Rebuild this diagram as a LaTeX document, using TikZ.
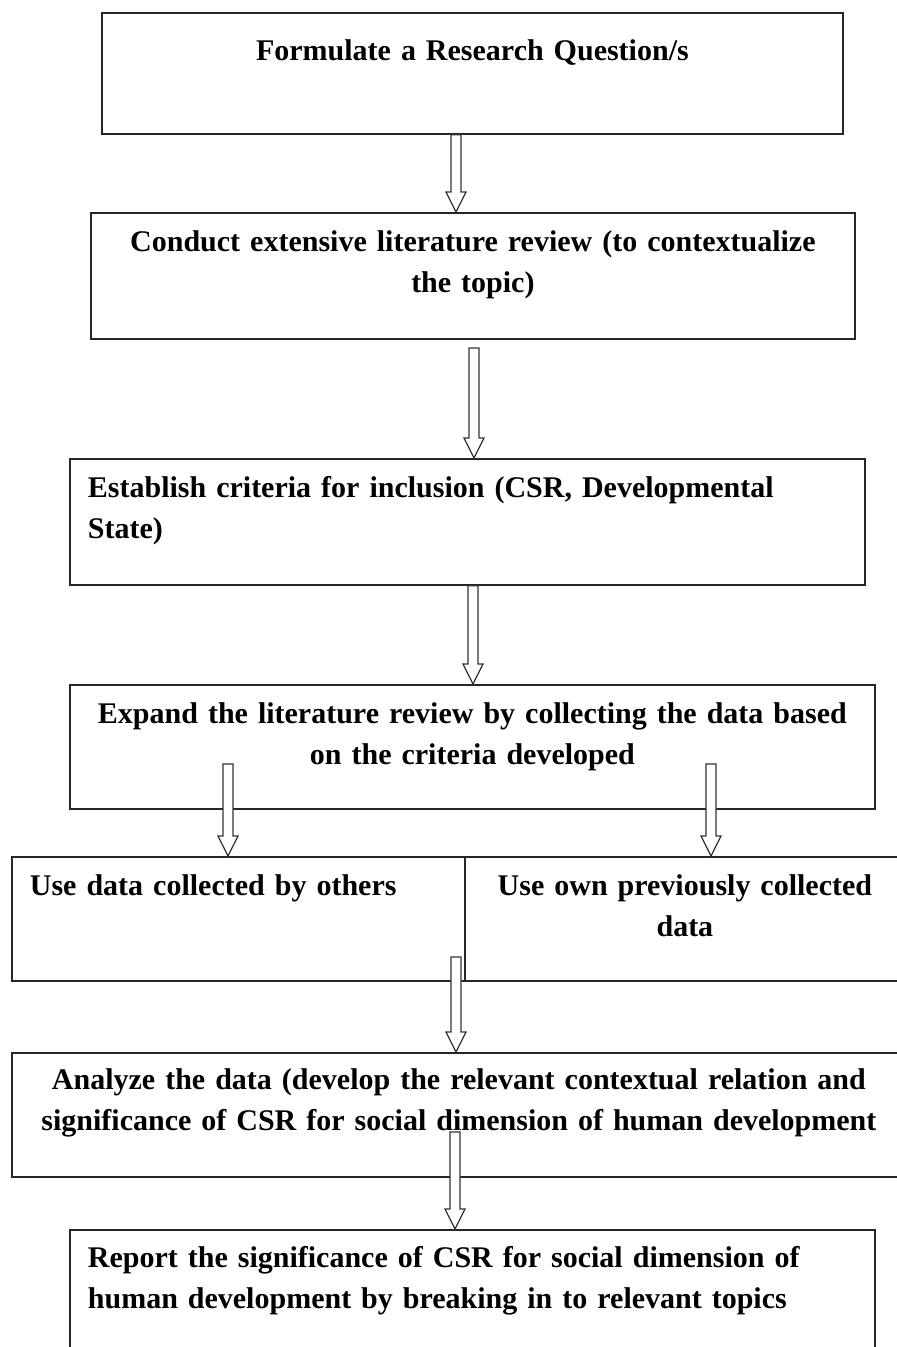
\documentclass[tikz,border=0pt]{standalone}
\usepackage{fontspec}
\setmainfont{Liberation Serif}
\usetikzlibrary{calc,positioning}

\tikzset{
  stage/.style={draw=black!85, line width=0.9pt, anchor=north west,
    inner xsep=9pt, inner ysep=0pt, text height=19.5pt,
    font=\fontsize{15}{20.5}\selectfont\bfseries},
  hollowarrow/.style={draw=black!80, line width=0.6pt, fill=white,
    to path={let \p1=(\tikztostart), \p2=(\tikztotarget) in
      (\x1-2.5pt,\y1) -- (\x1-2.5pt,\y2+10pt) -- (\x1-5pt,\y2+10pt)
      -- (\x1,\y2) -- (\x1+5pt,\y2+10pt) -- (\x1+2.5pt,\y2+10pt)
      -- (\x1+2.5pt,\y1) -- cycle}}
}

\begin{document}
\begin{tikzpicture}[x=0.5pt,y=-0.5pt]
  \useasboundingbox (0,0) rectangle (896,1347);
  % draw boxes
  \node[stage, text width=352.5pt, text height=24pt, text depth=36.5pt, align=center]
    (research) at (101,12) {Formulate a Research Question/s};
  \node[stage, text width=364pt, text depth=43.5pt, align=center]
    (review) at (90,212) {Conduct extensive literature review (to contextualize\\ the topic)};
  \node[stage, text width=379.5pt, text depth=43.5pt, align=left]
    (criteria) at (69,458) {Establish criteria for inclusion (CSR, Developmental\\ State)};
  \node[stage, text width=384.5pt, text depth=42.5pt, align=center]
    (expand) at (69,684) {Expand the literature review by collecting the data based\\ on the criteria developed};
  \node[stage, text width=208.5pt, text depth=42.5pt, align=left]
    (others) at (11,856) {Use data collected by others};
  \node[stage, text width=202pt, text depth=42.5pt, align=center]
    (own) at (464,856) {Use own previously collected\\ data};
  \node[stage, text width=429pt, text height=18.5pt, text depth=43.5pt, align=center]
    (analyze) at (11,1052) {Analyze the data (develop the relevant contextual relation and\\ significance of CSR for social dimension of human development};
  \node[stage, text width=384.5pt, text height=19pt, text depth=51pt, align=left]
    (report) at (69,1229) {Report the significance of CSR for social dimension of\\ human development by breaking in to relevant topics};
  % arrow positions
  \coordinate (colA) at (456,0);
  \coordinate (reviewout) at (474,348);
  \coordinate (colC) at (473,0);
  \coordinate (expandleft) at (228,764);
  \coordinate (expandright) at (711,764);
  \coordinate (splitout) at (456,957);
  \coordinate (analyzeout) at (455,1132);
  % draw arrows
  \draw[hollowarrow] (research.south -| colA) to (review.north -| colA);
  \draw[hollowarrow] (reviewout) to (criteria.north -| reviewout);
  \draw[hollowarrow] (criteria.south -| colC) to (expand.north -| colC);
  \draw[hollowarrow] (expandleft) to (others.north -| expandleft);
  \draw[hollowarrow] (expandright) to (own.north -| expandright);
  \draw[hollowarrow] (splitout) to (analyze.north -| splitout);
  \draw[hollowarrow] (analyzeout) to (report.north -| analyzeout);
\end{tikzpicture}
\end{document}
